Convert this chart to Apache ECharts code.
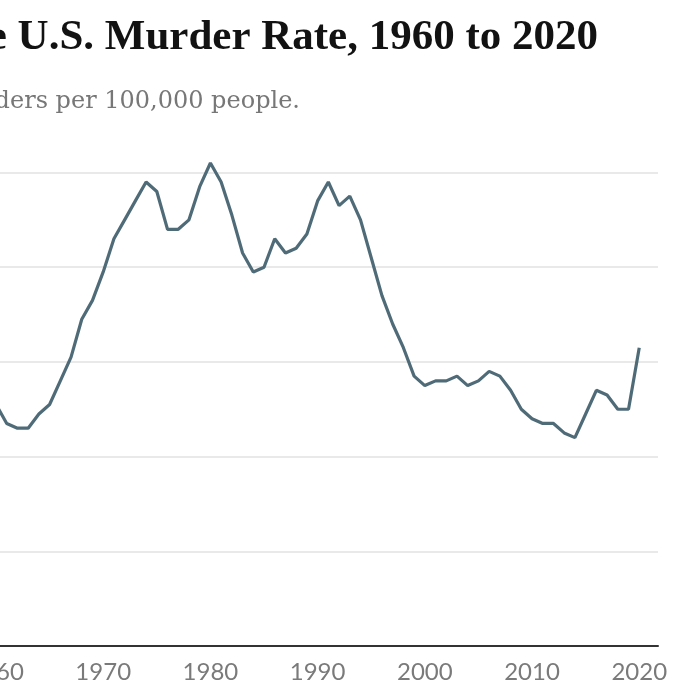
<!DOCTYPE html>
<html>
<head>
<meta charset="utf-8">
<script src="https://cdn.jsdelivr.net/npm/echarts@6/dist/echarts.min.js"></script>
<style>
  html, body { margin: 0; padding: 0; background: #fff; }
  #chart { width: 690px; height: 690px; }
</style>
</head>
<body>
<div id="chart"></div>
<script>
// murders per 100,000 people, 1960 - 2020
const years = [];
for (let y = 1960; y <= 2020; y++) years.push(y);
const rates = [
  5.1, 4.7, 4.6, 4.6, 4.9, 5.1, 5.6, 6.1, 6.9, 7.3,
  7.9, 8.6, 9.0, 9.4, 9.8, 9.6, 8.8, 8.8, 9.0, 9.7,
  10.2, 9.8, 9.1, 8.3, 7.9, 8.0, 8.6, 8.3, 8.4, 8.7,
  9.4, 9.8, 9.3, 9.5, 9.0, 8.2, 7.4, 6.8, 6.3, 5.7,
  5.5, 5.6, 5.6, 5.7, 5.5, 5.6, 5.8, 5.7, 5.4, 5.0,
  4.8, 4.7, 4.7, 4.5, 4.4, 4.9, 5.4, 5.3, 5.0, 5.0,
  6.3
];
const yTicks = [0, 2, 4, 6, 8, 10];

const titleText = 'The U.S. Murder Rate, 1960 to 2020';
const subText = 'Murders per 100,000 people.';

const myChart = echarts.init(document.getElementById('chart'));
myChart.setOption({
  animation: false,
  title: [
    {
      text: titleText,
      right: 87,
      top: 11,
      textStyle: {
        fontFamily: 'Liberation Serif',
        fontWeight: 'bold',
        fontSize: 43,
        color: '#121212',
      },
    },
    {
      text: subText,
      right: 385,
      top: 85,
      textStyle: {
        fontFamily: 'DejaVu Serif',
        fontWeight: 'normal',
        fontSize: 24,
        color: '#777',
      },
    },
  ],
  grid: {
    left: -4,
    right: 32,
    top: 172.5,
    bottom: 44,
    outerBoundsMode: 'none',
  },
  xAxis: {
    type: 'value',
    min: 1960,
    max: 2021.75,
    interval: 10,
    axisLine: { show: true, lineStyle: { color: '#333', width: 2 } },
    axisTick: { show: false },
    splitLine: { show: false },
    axisLabel: {
      margin: 14,
      fontFamily: 'Lato',
      fontSize: 24,
      color: '#7a7a7a',
      hideOverlap: false,
      formatter: (v) => (v % 10 === 0 ? String(v) : ''),
    },
  },
  yAxis: {
    type: 'value',
    min: yTicks[0],
    max: yTicks[yTicks.length - 1],
    interval: 2,
    axisLine: { show: false },
    axisTick: { show: false },
    axisLabel: { show: false },
    splitLine: { lineStyle: { color: '#e2e2e2', width: 1.5 } },
  },
  series: [
    {
      type: 'line',
      data: years.map((y, i) => [y, rates[i]]),
      showSymbol: false,
      clip: false,
      lineStyle: { color: '#4f6b78', width: 3.2 },
    },
  ],
});
</script>
</body>
</html>
